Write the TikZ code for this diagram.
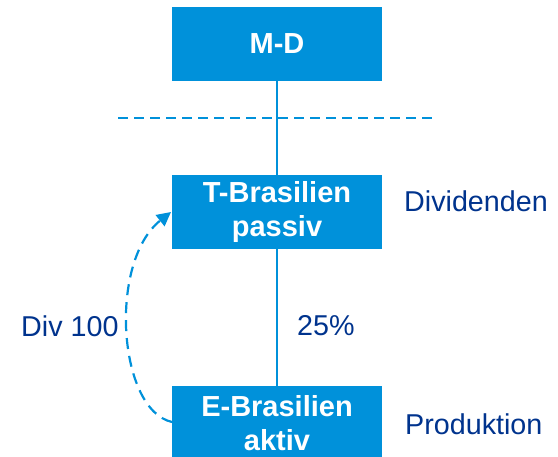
\documentclass[tikz,border=0pt]{standalone}
\usepackage{fontspec}
\setmainfont{Liberation Sans}
\usetikzlibrary{arrows.meta}
\definecolor{boxblue}{RGB}{0,145,218}
\definecolor{txtblue}{RGB}{0,51,141}
\begin{document}
\begin{tikzpicture}[x=1pt,y=-1pt,
  entity/.style={fill=boxblue, draw=none, minimum width=210pt, minimum height=74pt,
    text=white, font=\fontsize{29}{34}\selectfont\bfseries, align=center, inner sep=0pt},
  lbl/.style={text=txtblue, font=\fontsize{28.7}{34}\selectfont, inner sep=0pt},
  link/.style={draw=boxblue, line width=2pt}]
\useasboundingbox (0,0) rectangle (558,457);
\begin{scope}
\clip (0,0) rectangle (558,457);
\node[entity] (md) at (277,44) {M-D};
\node[entity] (tb) at (277,212) {T-Brasilien\\passiv};
\node[entity] (eb) at (277,423) {E-Brasilien\\aktiv};
\end{scope}
\coordinate (dl) at (118,118);
\coordinate (dr) at (435,118);
\draw[link] (md.south) -- (tb.north);
\draw[link] (tb.south) -- (eb.north);
\draw[draw=boxblue, line width=1.6pt, dash pattern=on 10pt off 6pt] (dl) -- (dr);
\coordinate (es) at (172,422);
\coordinate (te) at (171,212);
\draw[draw=boxblue, line width=2.2pt, dash pattern=on 11pt off 7pt,
  -{Triangle[length=14pt,width=14pt,fill=boxblue]}]
  (es) .. controls (118,410) and (108,262) .. (te);
\node[lbl, anchor=base west] (dv) at (404,212) {Dividenden};
\node[lbl, anchor=base west] (pr) at (405,435) {Produktion};
\node[lbl, anchor=base west] (d100) at (21,337) {Div 100};
\node[lbl, anchor=base west] (pc) at (297,336) {25\%};
\end{tikzpicture}
\end{document}
